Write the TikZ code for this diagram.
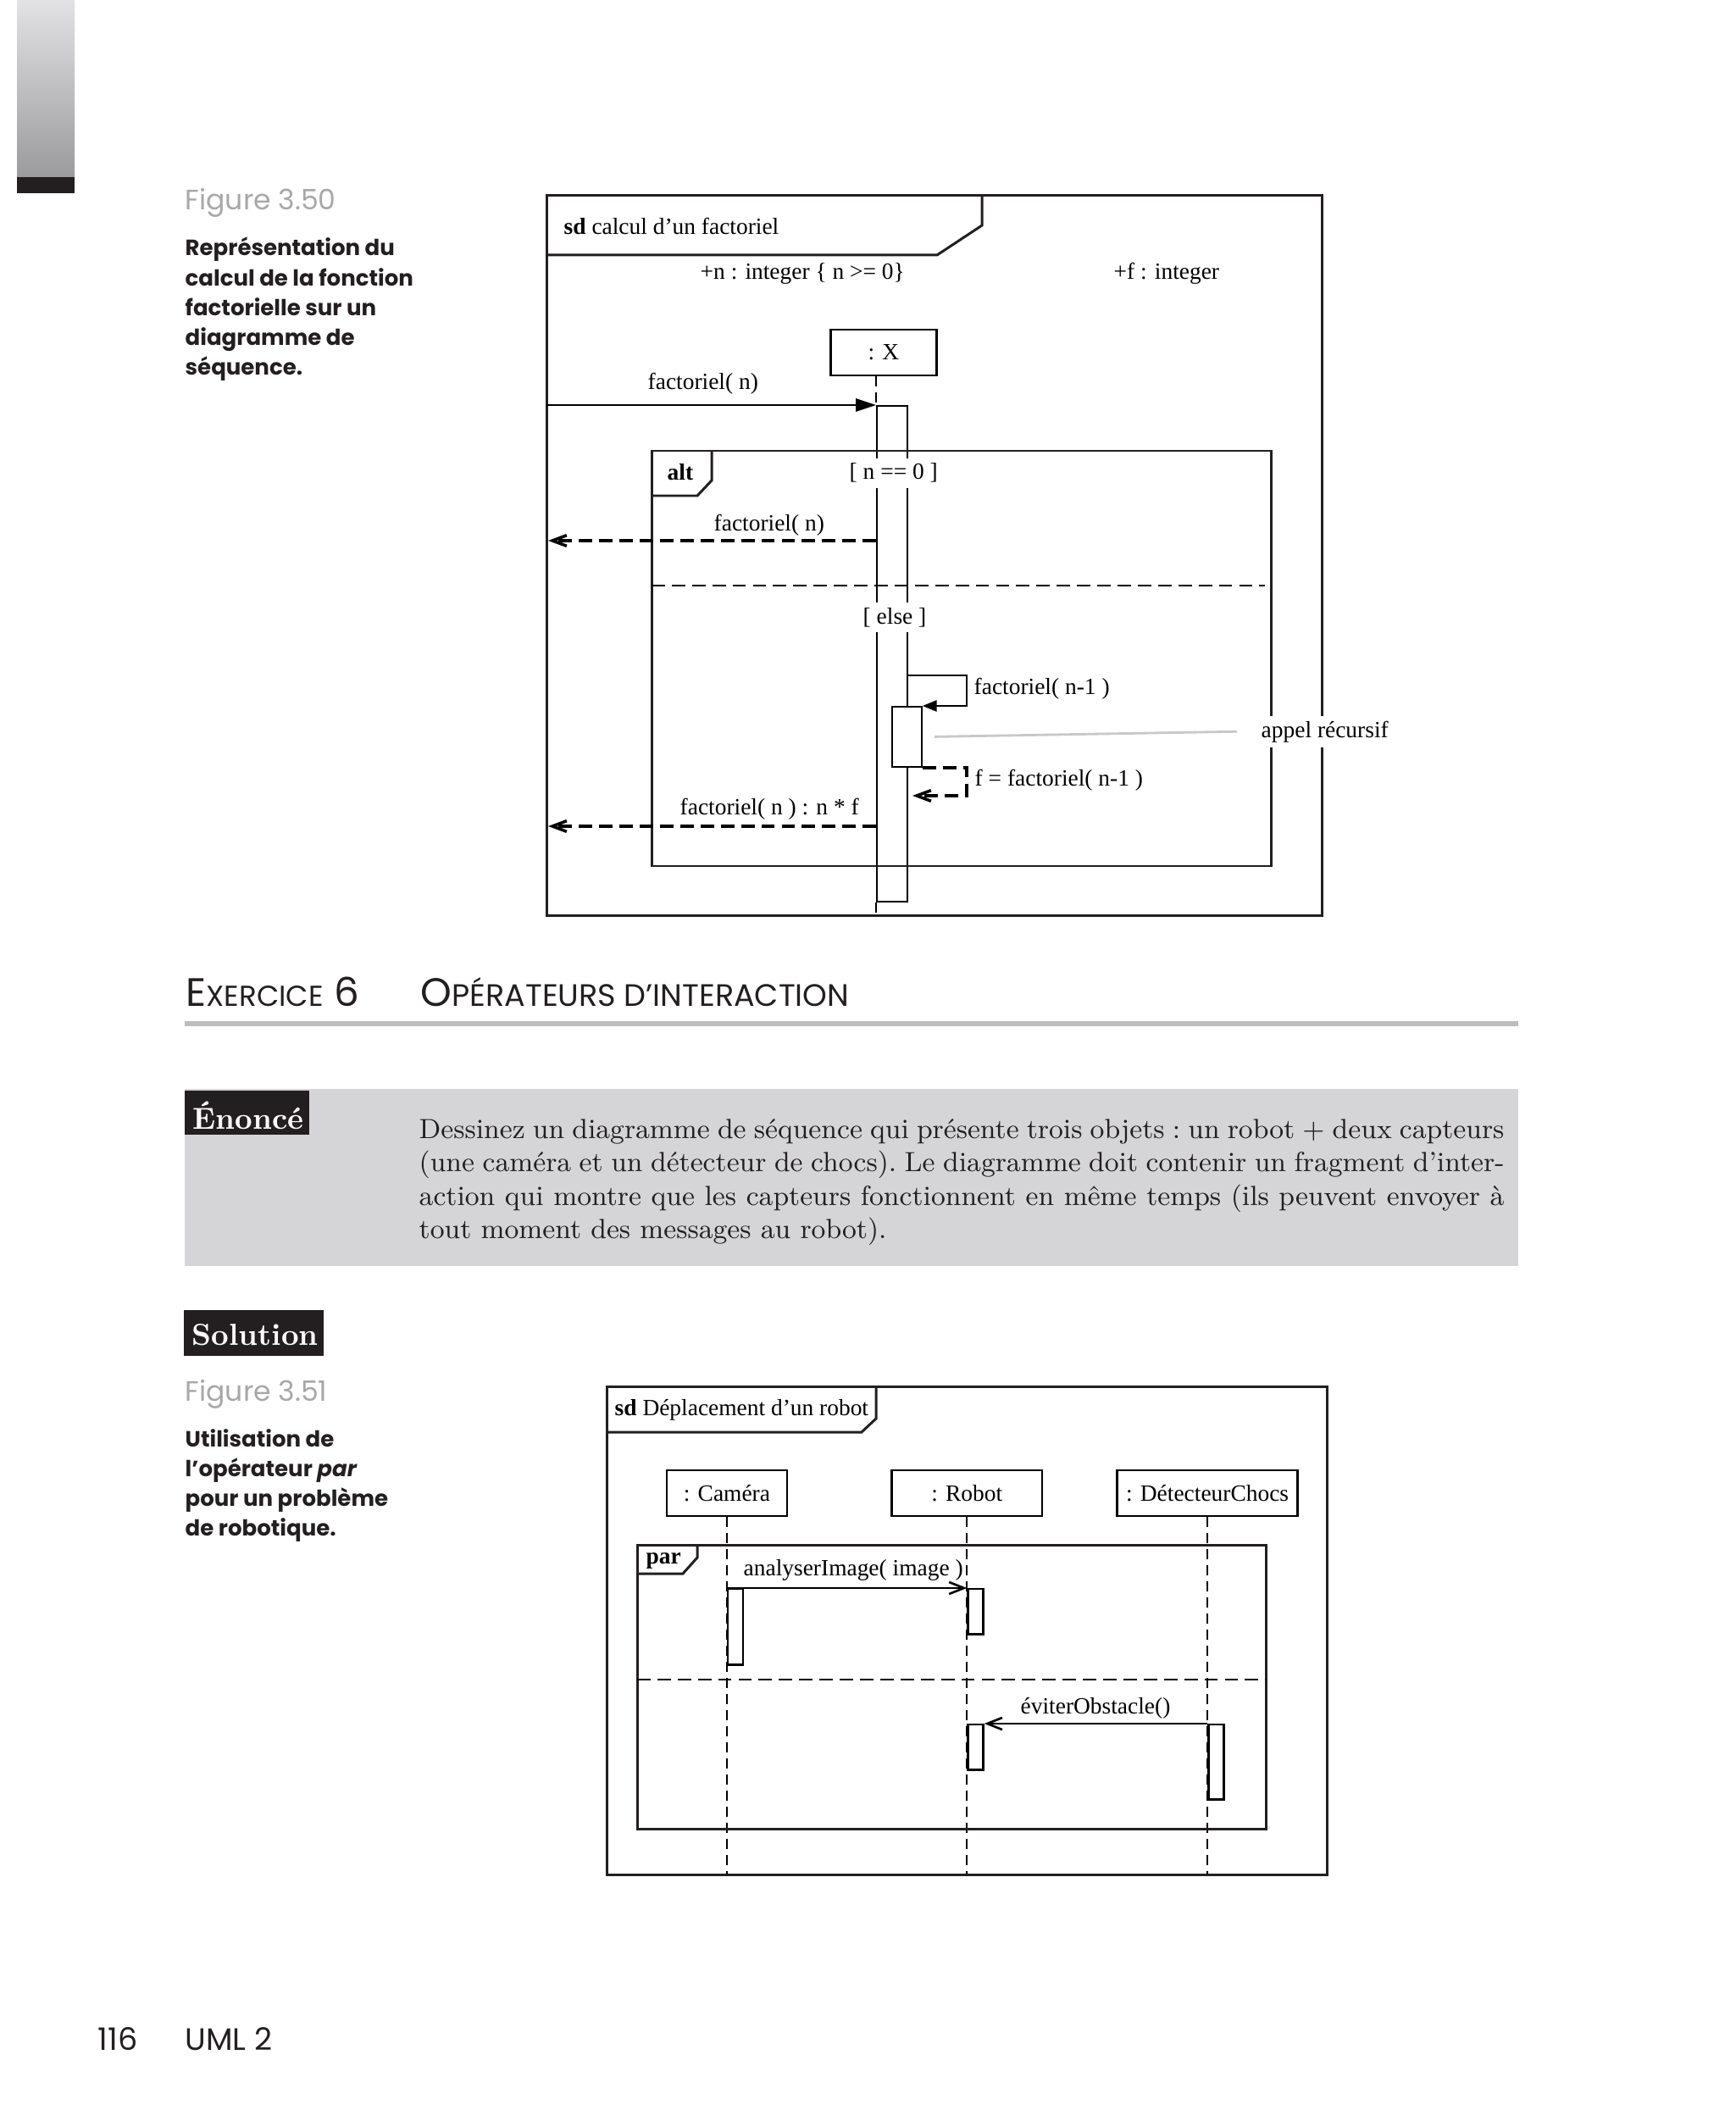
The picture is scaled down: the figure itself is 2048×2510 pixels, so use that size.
\documentclass[tikz,border=0pt]{standalone}
\usepackage{fontspec}
\newfontfamily\umlfont{Liberation Serif}
\newfontfamily\futfont{Poppins}
\usetikzlibrary{arrows.meta, positioning}
\definecolor{inkblack}{HTML}{231F20}
\definecolor{figgray}{HTML}{A8A8AA}
\definecolor{boxgray}{HTML}{D5D5D7}
\definecolor{rulegray}{HTML}{BDBDBF}
\definecolor{barlight}{HTML}{E2E2E4}
\definecolor{bardark}{HTML}{9B9B9E}
\definecolor{notegray}{HTML}{C8C8CA}
\newcommand{\hcap}[1]{{\fontsize{13.3}{16}\selectfont #1}}
\newcommand{\hsc}[1]{{\fontsize{9.7}{12}\selectfont #1}}
\newcommand{\hsctitle}[1]{{\fontsize{10.4}{12}\selectfont #1}}

\begin{document}
\begin{tikzpicture}[
    x=0.01cm, y=-0.01cm,
    txt/.style={font=\umlfont\fontsize{7.8}{9}\selectfont, inner sep=0pt,
                anchor=base west},
    cover/.style={txt, fill=white, inner xsep=0.04cm, inner ysep=0.06cm},
    frame/.style={draw=inkblack, line width=0.85pt},
    head/.style={draw, line width=0.75pt, font=\umlfont\fontsize{7.8}{9}\selectfont,
                 minimum height=0.54cm, inner sep=0pt},
    bar/.style={draw, fill=white, line width=0.5pt, minimum width=0.36cm,
                inner sep=0pt, anchor=north west},
    actbar/.style={draw, fill=white, line width=0.7pt, minimum width=0.18cm,
                   inner sep=0pt, anchor=north west},
    lifeline/.style={line width=0.5pt, dash pattern=on 3.4pt off 2pt},
    callmsg/.style={line width=0.75pt, -{Triangle[length=6.8pt, width=4.3pt]}},
    selfmsg/.style={line width=0.75pt, -{Triangle[length=4.8pt, width=3.7pt]}},
    asyncmsg/.style={line width=0.75pt, -{Straight Barb[length=5pt, width=4pt]}},
    reply/.style={line width=1pt, dash pattern=on 4.5pt off 2.3pt,
                  -{Straight Barb[length=4.8pt, width=3.6pt]}},
    opsep/.style={line width=0.7pt, dash pattern=on 4.5pt off 2.3pt},
    figlbl/.style={anchor=base west, inner sep=0pt, text=figgray,
                   font=\futfont\fontsize{9.4}{11}\selectfont},
    legend/.style={anchor=base west, inner sep=0pt, text=inkblack},
    darklbl/.style={anchor=base west, inner sep=0pt, text=white,
                    font=\bfseries\fontsize{10.2}{12}\selectfont},
  ]
  \useasboundingbox (0,0) rectangle (2048,2510);
  \fill[white] (0,0) rectangle (2048,2510);
  \shade[top color=barlight, bottom color=bardark] (20,0) rectangle (88,209);
  \fill[inkblack] (20,209) rectangle (88,228);

  % figure 3.50
  \node[figlbl] (fig50) at (218,248) {Figure 3.50};
  \node[legend] (leg50) at (218,302) {\parbox[t]{6cm}{\futfont\bfseries
      \fontsize{7.4}{9.96}\selectfont Représentation du\\ calcul de la fonction\\
      factorielle sur un\\ diagramme de\\ séquence.}};

  \draw[frame] (645,231) rectangle (1560,1080);
  \draw[frame] (645,301) -- (1106,301) -- (1159,266) -- (1159,231);
  \node[txt] (sd1) at (665,277) {{\bfseries sd} calcul d’un factoriel};
  \node[txt] (attn) at (826,330) {+n : integer \{ n >= 0\}};
  \node[txt] (attf) at (1314,330) {+f : integer};

  \node[head, minimum width=1.25cm] (x) at (1043,416) {: X};
  \node[bar, minimum height=5.85cm] (xA) at (1034,478) {};
  \coordinate (f1b) at (645,1080);
  \draw[lifeline] (x.south -| xA.north west) -- (xA.north west);
  \draw[lifeline] (xA.south west) -- (xA.south west |- f1b);
  \coordinate (in1) at (645,478);
  \draw[callmsg] (in1) -- (xA.north west);
  \node[txt] (m1) at (764,460) {factoriel( n)};

  \draw[frame] (769,532) rectangle (1500,1022);
  \draw[frame] (769,585) -- (823,585) -- (840,567) -- (840,532);
  \node[txt] (alt) at (787,567) {\bfseries alt};
  \node[cover] (g1) at (998,566) {[ n == 0 ]};
  \coordinate (r1a) at (1034,638);
  \coordinate (r1b) at (647,638);
  \draw[reply] (r1a) -- (r1b);
  \node[txt] (m2) at (842,627) {factoriel( n)};
  \coordinate (sepa) at (769,691);
  \coordinate (sepb) at (1493,691);
  \draw[opsep] (sepa) -- (sepb);
  \node[cover] (g2) at (1014,736) {[ else ]};

  \node[bar, minimum width=0.35cm, minimum height=0.71cm] (xB) at (1052,833) {};
  \coordinate (s1) at (1070,797);
  \coordinate (s2) at (1141,833);
  \draw[selfmsg] (s1) -| (s2) -- (xB.north east);
  \node[txt] (m3) at (1149,820) {factoriel( n-1 )};
  \coordinate (s3) at (1141,939);
  \coordinate (s4) at (1077,939);
  \draw[reply] (xB.south east) -| (s3) -- (s4);
  \node[txt] (m4) at (1150,927) {f = factoriel( n-1 )};
  \coordinate (r2a) at (1034,975);
  \coordinate (r2b) at (647,975);
  \draw[reply] (r2a) -- (r2b);
  \node[txt] (m5) at (802,961) {factoriel( n ) : n * f};
  \node[cover] (rec) at (1484,870) {appel récursif};
  \draw[notegray, line width=0.8pt] ([xshift=0.14cm]xB.east) -- ([xshift=-0.24cm]rec.west);

  % exercice
  \node[anchor=base west, inner sep=0pt, font=\futfont, text=inkblack] (exo) at (219,1187)
    {\hcap{E}\hsc{XERCICE}\hcap{\ 6}};
  \node[anchor=base west, inner sep=0pt, font=\futfont, text=inkblack] (titre) at (496,1187)
    {\hcap{O}\hsctitle{PÉRATEURS D’INTERACTION}};
  \fill[rulegray] (218,1205) rectangle (1792,1211);

  \fill[boxgray] (218,1285) rectangle (1792,1494);
  \fill[inkblack] (218,1287) rectangle (365,1339);
  \node[darklbl] (enon) at (227,1332) {Énoncé};
  \node[legend] (enonce) at (494,1343) {\parbox[t]{12.8cm}{\fontsize{9.3}{11.25}\selectfont
      \frenchspacing
      \hbox to\linewidth{Dessinez un diagramme de séquence qui présente trois objets : un robot + deux capteurs}
      \hbox to\linewidth{(une caméra et un détecteur de chocs). Le diagramme doit contenir un fragment d’inter-}
      \hbox to\linewidth{action qui montre que les capteurs fonctionnent en même temps (ils peuvent envoyer à}
      \hbox{tout moment des messages au robot).}}};

  % solution
  \fill[inkblack] (217,1546) rectangle (382,1600);
  \node[darklbl] (sol) at (226,1587) {Solution};
  \node[figlbl] (fig51) at (218,1653) {Figure 3.51};
  \node[legend] (leg51) at (218,1707) {\parbox[t]{6cm}{\futfont\bfseries
      \fontsize{7.4}{9.96}\selectfont Utilisation de\\ l’opérateur \textit{par}\\
      pour un problème\\ de robotique.}};

  \draw[frame] (716,1636) rectangle (1566,2212);
  \draw[frame] (716,1690) -- (1017,1690) -- (1034,1674) -- (1034,1636);
  \node[txt] (sd2) at (725,1670) {{\bfseries sd} Déplacement d’un robot};

  \node[head, minimum width=1.42cm] (cam) at (858,1762) {: Caméra};
  \node[head, minimum width=1.77cm, right=1.21cm of cam] (rob) {: Robot};
  \node[head, minimum width=2.13cm, right=0.86cm of rob] (det) {: DétecteurChocs};
  \coordinate (f2b) at (0,2212);
  \foreach \o in {cam, rob, det}
    \draw[lifeline] (\o.south) -- (\o.south |- f2b);

  \draw[frame] (752,1823) rectangle (1494,2158);
  \draw[frame] (752,1857) -- (806,1857) -- (823,1838) -- (823,1823);
  \node[txt] (par) at (762,1845) {\bfseries par};
  \coordinate (sepc) at (752,1982);
  \coordinate (sepd) at (1494,1982);
  \draw[opsep] (sepc) -- (sepd);

  \coordinate (t1) at (0,1874);
  \coordinate (t2) at (0,2034);
  \node[actbar, minimum height=0.89cm] (camA) at (cam.south |- t1) {};
  \node[actbar, minimum height=0.53cm] (robA) at (rob.south |- t1) {};
  \node[actbar, minimum height=0.53cm] (robB) at (rob.south |- t2) {};
  \node[actbar, minimum height=0.88cm] (detA) at (det.south |- t2) {};
  \draw[asyncmsg] (camA.north west) -- (robA.north west);
  \node[txt] (m6) at (877,1859) {analyserImage( image )};
  \draw[asyncmsg] (detA.north west) -- (robB.north east);
  \node[txt] (m7) at (1204,2022) {éviterObstacle()};

  \node[legend, font=\futfont\fontsize{10.4}{12}\selectfont] (pg) at (115,2419) {116};
  \node[legend, font=\futfont\fontsize{10.4}{12}\selectfont] (book) at (218,2419) {UML 2};
\end{tikzpicture}
\end{document}
